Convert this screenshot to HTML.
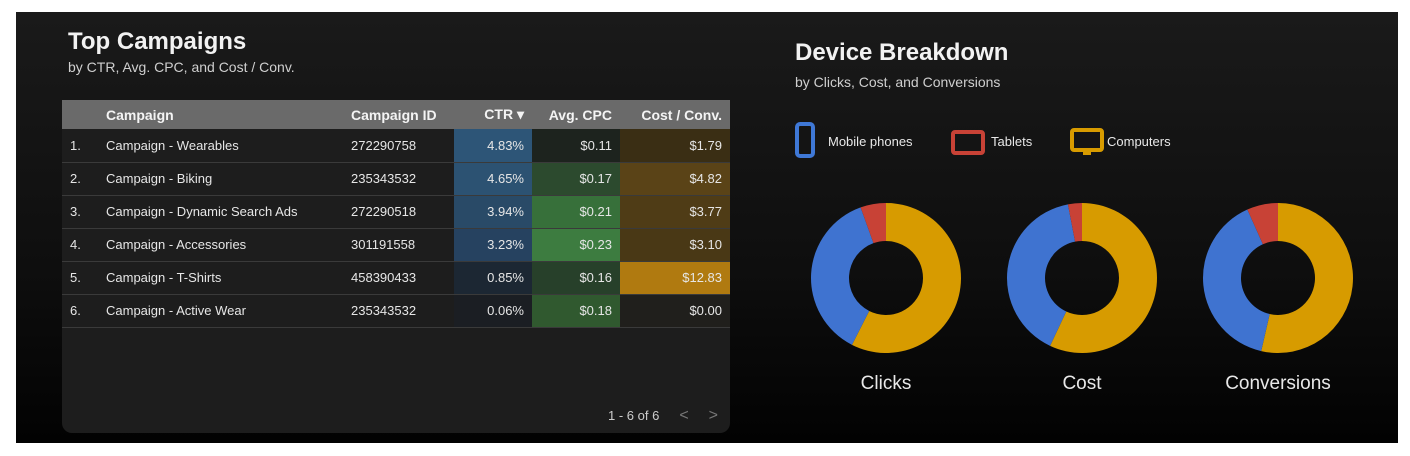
<!DOCTYPE html>
<html><head><meta charset="utf-8"><style>
html,body{margin:0;padding:0;background:#fff;width:1410px;height:456px;overflow:hidden;font-family:"Liberation Sans",sans-serif}
#panel{position:absolute;left:16px;top:12px;width:1382px;height:431px;background:linear-gradient(180deg,#1a1a1a 0%,#0e0e0e 60%,#020202 100%)}
.t{position:absolute;color:#f2f2f2;font-weight:bold;font-size:24px}
.s{position:absolute;color:#cfcfcf;font-size:14px}
#card{position:absolute;left:62px;top:100px;width:668px;height:333px;background:#1d1d1d;border-radius:0 0 10px 10px;overflow:hidden}
table{border-collapse:collapse;width:668px;font-size:13px;color:#e6e6e6}
th{background:#6a6a6a;color:#f4f4f4;font-weight:bold;font-size:14px;height:29px;text-align:left;padding:0 0 0 8px;box-sizing:border-box}
td{height:33px;padding:0 8px;border-bottom:1px solid #3a3a3a;white-space:nowrap;box-sizing:border-box}
.r{text-align:right}
#pag{position:absolute;right:12px;bottom:8px;color:#ccc;font-size:13px}
#pag span{color:#777;margin-left:20px;font-size:16px}
</style></head><body>
<div id="panel"></div>
<div class="t" style="left:68px;top:28px">Top Campaigns</div>
<div class="s" style="left:68px;top:59px">by CTR, Avg. CPC, and Cost / Conv.</div>
<div id="card">
<table>
<colgroup><col style="width:36px"><col style="width:245px"><col style="width:111px"><col style="width:78px"><col style="width:88px"><col style="width:110px"></colgroup>
<tr><th></th><th>Campaign</th><th>Campaign ID</th><th class="r" style="padding-right:8px">CTR ▾</th><th class="r" style="padding-right:8px">Avg. CPC</th><th class="r" style="padding-right:8px">Cost / Conv.</th></tr>
<tr><td>1.</td><td>Campaign - Wearables</td><td>272290758</td><td class="r" style="background:#2d5577">4.83%</td><td class="r" style="background:#1d231e">$0.11</td><td class="r" style="background:#3a2e14">$1.79</td></tr>
<tr><td>2.</td><td>Campaign - Biking</td><td>235343532</td><td class="r" style="background:#2c5272">4.65%</td><td class="r" style="background:#2c4a2e">$0.17</td><td class="r" style="background:#5a4317">$4.82</td></tr>
<tr><td>3.</td><td>Campaign - Dynamic Search Ads</td><td>272290518</td><td class="r" style="background:#294a67">3.94%</td><td class="r" style="background:#37703a">$0.21</td><td class="r" style="background:#4f3c16">$3.77</td></tr>
<tr><td>4.</td><td>Campaign - Accessories</td><td>301191558</td><td class="r" style="background:#264260">3.23%</td><td class="r" style="background:#3d7c40">$0.23</td><td class="r" style="background:#493815">$3.10</td></tr>
<tr><td>5.</td><td>Campaign - T-Shirts</td><td>458390433</td><td class="r" style="background:#1c2733">0.85%</td><td class="r" style="background:#27402a">$0.16</td><td class="r" style="background:#b07a10">$12.83</td></tr>
<tr><td>6.</td><td>Campaign - Active Wear</td><td>235343532</td><td class="r" style="background:#1b1e23">0.06%</td><td class="r" style="background:#30592f">$0.18</td><td class="r" style="background:#201f1c">$0.00</td></tr>
</table>
<div id="pag">1 - 6 of 6<span>&lt;</span><span>&gt;</span></div>
</div>
<div class="t" style="left:795px;top:39px">Device Breakdown</div>
<div class="s" style="left:795px;top:74px">by Clicks, Cost, and Conversions</div>
<svg id="ch" width="1410" height="456" style="position:absolute;left:0;top:0">
<g font-size="13" fill="#e8e8e8">
<rect x="797" y="124" width="16" height="32" rx="3" fill="none" stroke="#3f78d6" stroke-width="4"/>
<text x="828" y="146">Mobile phones</text>
<rect x="953" y="132" width="30" height="21" rx="2" fill="none" stroke="#c84236" stroke-width="4"/>
<text x="991" y="146">Tablets</text>
<rect x="1072" y="130" width="30" height="20" rx="2" fill="none" stroke="#d79b00" stroke-width="4"/>
<rect x="1083" y="150" width="8" height="5" fill="#d79b00"/>
<text x="1107" y="146">Computers</text>
</g>
</svg>
<script>
const metrics=["Clicks","Cost","Conversions"];
const devices=["Computers","Mobile phones","Tablets"];
const computers=[57.5,57,53.6];
const mobile=[37,40,39.7];
const tablets=[5.5,3,6.7];
const colors=["#d79b00","#3f73d0","#c84236"];
const svg=document.getElementById('ch');
const NS="http://www.w3.org/2000/svg";
const cxs=[886,1082,1278],cy=278,R=75,r=37;
function pt(a,rad,cx){const t=(a/100)*2*Math.PI;return [cx+rad*Math.sin(t),cy-rad*Math.cos(t)];}
metrics.forEach((m,i)=>{
  const vals=[computers[i],mobile[i],tablets[i]];
  const tot=vals.reduce((a,b)=>a+b,0);
  let acc=0;
  vals.forEach((v,j)=>{
    const a0=acc/tot*100,a1=(acc+v)/tot*100;acc+=v;
    const large=(a1-a0)>50?1:0;
    const [x0,y0]=pt(a0,R,cxs[i]),[x1,y1]=pt(a1,R,cxs[i]),[x2,y2]=pt(a1,r,cxs[i]),[x3,y3]=pt(a0,r,cxs[i]);
    const p=document.createElementNS(NS,'path');
    p.setAttribute('d',`M${x0},${y0}A${R},${R} 0 ${large} 1 ${x1},${y1}L${x2},${y2}A${r},${r} 0 ${large} 0 ${x3},${y3}Z`);
    p.setAttribute('fill',colors[j]);
    
    
    svg.appendChild(p);
  });
  const t=document.createElementNS(NS,'text');
  t.setAttribute('x',cxs[i]);t.setAttribute('y',389);t.setAttribute('text-anchor','middle');
  t.setAttribute('fill','#e8e8e8');t.setAttribute('font-size','19');
  
  
  t.textContent=m;svg.appendChild(t);
});
</script>
</body></html>
